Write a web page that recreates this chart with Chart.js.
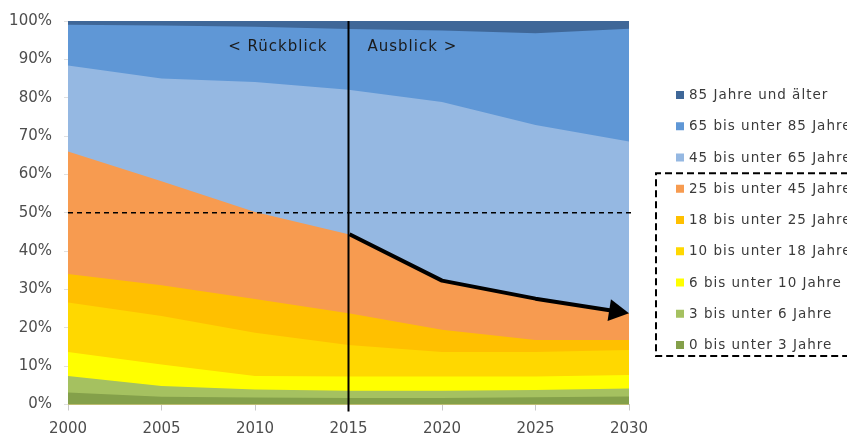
<!DOCTYPE html>
<html lang="de">
<head>
<meta charset="utf-8">
<script src="https://cdn.jsdelivr.net/npm/chart.js@4/dist/chart.umd.min.js"></script>
<style>
  html, body { margin: 0; padding: 0; background: #ffffff; }
  #wrap { width: 847px; height: 434px; position: relative; }
</style>
</head>
<body>
<div id="wrap"><canvas id="chart" width="847" height="434"></canvas></div>
<script>
// Jahre (x-Achse)
const years = ['2000', '2005', '2010', '2015', '2020', '2025', '2030'];

// Anteile der Altersgruppen an der Bevölkerung in Prozent
const age0to3   = [3.1, 2.0, 1.8, 1.7, 1.7, 1.9, 2.1];
const age3to6   = [4.3, 2.8, 2.1, 1.9, 1.9, 1.9, 2.1];
const age6to10  = [6.3, 5.6, 3.5, 3.7, 3.7, 3.5, 3.5];
const age10to18 = [12.9, 12.7, 11.3, 8.2, 6.4, 6.4, 6.5];
const age18to25 = [7.4, 8.0, 8.8, 8.3, 5.8, 3.1, 2.6];
const age25to45 = [32.0, 27.1, 22.7, 20.6, 12.8, 10.8, 7.0];
const age45to65 = [22.4, 26.8, 33.9, 37.7, 46.6, 45.3, 44.8];
const age65to85 = [10.6, 13.8, 14.4, 15.8, 18.6, 23.9, 29.4];
const age85plus = [1.0, 1.2, 1.5, 2.1, 2.5, 3.2, 2.0];

// Legendentexte, von unten nach oben gestapelt
const groupLabels = [
  '0 bis unter 3 Jahre',
  '3 bis unter 6 Jahre',
  '6 bis unter 10 Jahre',
  '10 bis unter 18 Jahre',
  '18 bis unter 25 Jahre',
  '25 bis unter 45 Jahre',
  '45 bis unter 65 Jahre',
  '65 bis unter 85 Jahre',
  '85 Jahre und älter'
];

// y-Achsen-Ticks
const yTicks = [0, 10, 20, 30, 40, 50, 60, 70, 80, 90, 100];

// Trennjahr zwischen Rückblick und Ausblick, Schwellenwert
const splitYear = '2015';
const thresholdPct = 50;

const groupSeries = [age0to3, age3to6, age6to10, age10to18, age18to25, age25to45, age45to65, age65to85, age85plus];
const groupColors = ['#84a04a', '#a5c160', '#ffff00', '#ffd800', '#ffc000', '#f79b50', '#95b8e2', '#5f97d6', '#3f6798'];

const FONT = '"DejaVu Sans", "Liberation Sans", Arial, sans-serif';
const TICK_COLOR = '#4d4d4d';

const datasets = groupSeries.map((vals, i) => ({
  label: groupLabels[i],
  data: vals,
  backgroundColor: groupColors[i],
  borderColor: groupColors[i],
  borderWidth: 0,
  pointRadius: 0,
  pointHoverRadius: 0,
  tension: 0,
  fill: 'origin'
}));

// Kumulierte Obergrenze einer Gruppe (Summe aller jüngeren Gruppen)
function cumulativeTop(idx) {
  return years.map((_, j) => {
    let s = 0;
    for (let k = 0; k <= idx; k++) s += groupSeries[k][j];
    return s;
  });
}

const overlayPlugin = {
  id: 'overlay',
  afterDatasetsDraw(chart) {
    const { ctx, chartArea, scales } = chart;
    const xs = scales.x, ys = scales.y;

    // 50-%-Linie
    ctx.save();
    ctx.strokeStyle = '#000';
    ctx.lineWidth = 1.5;
    ctx.setLineDash([5, 4]);
    const y50 = ys.getPixelForValue(thresholdPct);
    ctx.beginPath();
    ctx.moveTo(chartArea.left, y50);
    ctx.lineTo(chartArea.right + 3, y50);
    ctx.stroke();
    ctx.restore();

    // Trennlinie 2015
    const splitIdx = years.indexOf(splitYear);
    const xSplit = xs.getPixelForValue(splitIdx);
    ctx.save();
    ctx.strokeStyle = '#000';
    ctx.lineWidth = 2;
    ctx.beginPath();
    ctx.moveTo(xSplit, chartArea.top);
    ctx.lineTo(xSplit, chartArea.bottom + 7);
    ctx.stroke();
    ctx.restore();

    // Pfeil entlang der Obergrenze der unter 45-Jährigen ab 2015
    const top25to45 = cumulativeTop(5);
    const pts = [];
    for (let j = splitIdx; j < years.length; j++) {
      pts.push([xs.getPixelForValue(j), ys.getPixelForValue(top25to45[j])]);
    }
    const last = pts[pts.length - 1];
    const prev = pts[pts.length - 2];
    const ang = Math.atan2(last[1] - prev[1], last[0] - prev[0]);
    const headLen = 20, headHalf = 11;
    const baseX = last[0] - headLen * Math.cos(ang);
    const baseY = last[1] - headLen * Math.sin(ang);
    ctx.save();
    ctx.strokeStyle = '#000';
    ctx.fillStyle = '#000';
    ctx.lineWidth = 4;
    ctx.lineJoin = 'round';
    ctx.beginPath();
    ctx.moveTo(pts[0][0] + 1, pts[0][1]);
    for (let k = 1; k < pts.length - 1; k++) ctx.lineTo(pts[k][0], pts[k][1]);
    ctx.lineTo(baseX + 2 * Math.cos(ang), baseY + 2 * Math.sin(ang));
    ctx.stroke();
    ctx.beginPath();
    ctx.moveTo(last[0], last[1]);
    ctx.lineTo(baseX - headHalf * Math.sin(ang), baseY + headHalf * Math.cos(ang));
    ctx.lineTo(baseX + headHalf * Math.sin(ang), baseY - headHalf * Math.cos(ang));
    ctx.closePath();
    ctx.fill();
    ctx.restore();

    // Beschriftungen Rückblick / Ausblick
    ctx.save();
    ctx.font = '15px ' + FONT;
    ctx.fillStyle = '#1a1a1a';
    ctx.textBaseline = 'middle';
    ctx.letterSpacing = '1px';
    ctx.textAlign = 'right';
    ctx.fillText('< Rückblick', xSplit - 21, chartArea.top + 26);
    ctx.textAlign = 'left';
    ctx.fillText('Ausblick >', xSplit + 19, chartArea.top + 26);
    ctx.restore();
  },
  afterDraw(chart) {
    const { ctx, scales } = chart;

    // Jahreszahlen unter der x-Achse (aus den Ticks der Kategorieachse)
    const xs = scales.x;
    ctx.save();
    ctx.font = '15px ' + FONT;
    ctx.fillStyle = TICK_COLOR;
    ctx.textAlign = 'center';
    ctx.textBaseline = 'alphabetic';
    xs.ticks.forEach((t, k) => {
      ctx.fillText(xs.getLabelForValue(t.value), xs.getPixelForTick(k), 432.5);
    });
    ctx.restore();

    // Legende rechts, oberste Gruppe zuerst
    const legendX = 676, firstY = 95, step = 31.25;
    ctx.save();
    ctx.font = '13.5px ' + FONT;
    ctx.letterSpacing = '1px';
    ctx.textBaseline = 'middle';
    ctx.textAlign = 'left';
    const n = groupLabels.length;
    for (let r = 0; r < n; r++) {
      const i = n - 1 - r;
      const cy = firstY + r * step;
      ctx.fillStyle = groupColors[i];
      ctx.fillRect(legendX, cy - 4, 8, 8);
      ctx.fillStyle = '#3a3a3a';
      ctx.fillText(groupLabels[i], legendX + 13, cy + 0.5);
    }
    // gestrichelter Rahmen um die Gruppen unter 45 Jahren
    const boxTop = firstY + 2.5 * step;
    const boxBottom = firstY + 8.35 * step;
    ctx.strokeStyle = '#000';
    ctx.lineWidth = 2;
    ctx.setLineDash([7, 4]);
    ctx.beginPath();
    ctx.moveTo(870, boxTop);
    ctx.lineTo(656, boxTop);
    ctx.lineTo(656, boxBottom);
    ctx.lineTo(870, boxBottom);
    ctx.stroke();
    ctx.restore();
  }
};

new Chart(document.getElementById('chart'), {
  type: 'line',
  data: { labels: years, datasets },
  plugins: [overlayPlugin],
  options: {
    responsive: false,
    animation: false,
    events: [],
    layout: { padding: { top: 19, right: 218, left: 0, bottom: 0 } },
    plugins: {
      legend: { display: false },
      tooltip: { enabled: false },
      filler: { drawTime: 'beforeDatasetDraw' }
    },
    scales: {
      x: {
        type: 'category',
        offset: false,
        grid: {
          display: true,
          drawOnChartArea: false,
          drawTicks: true,
          tickLength: 6,
          color: '#c8c8c8'
        },
        border: { display: true, color: '#c8c8c8', width: 1 },
        ticks: {
          display: false,
          autoSkip: false,
          maxRotation: 0
        },
        afterFit(scale) { scale.height = 29.5; }
      },
      y: {
        stacked: true,
        min: 0,
        max: 100,
        afterBuildTicks(scale) { scale.ticks = yTicks.map(v => ({ value: v })); },
        grid: {
          display: true,
          drawOnChartArea: false,
          drawTicks: true,
          tickLength: 4,
          color: '#e0e0e0'
        },
        border: { display: true, color: '#e0e0e0', width: 1 },
        ticks: {
          color: TICK_COLOR,
          font: { family: FONT, size: 15 },
          padding: 12,
          callback: v => v + '%'
        },
        afterFit(scale) { scale.width = 68; }
      }
    }
  }
});
</script>
</body>
</html>
